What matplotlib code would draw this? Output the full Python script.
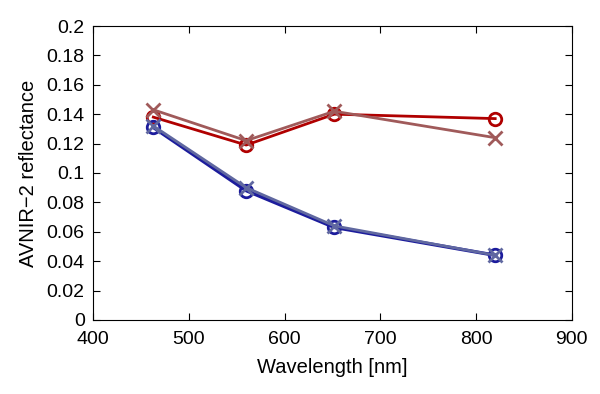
import numpy as np
import matplotlib.pyplot as plt

plt.rcParams['font.family'] = ['Liberation Sans', 'DejaVu Sans']

wavelength = [463, 560, 652, 820]
red_circ = [0.138, 0.119, 0.140, 0.137]
red_cross = [0.143, 0.122, 0.142, 0.124]
blue_circ = [0.131, 0.088, 0.063, 0.044]
blue_cross = [0.132, 0.090, 0.064, 0.044]

fig = plt.figure(figsize=(6, 3.94), dpi=100)
ax = fig.add_axes([0.155, 0.188, 0.798, 0.746])

ax.plot(wavelength, red_circ, '-o', color='#b00000', lw=2, ms=9, mfc='none', mew=2)
ax.plot(wavelength, red_cross, '-x', color='#a05a5a', lw=2, ms=10, mew=2)
ax.plot(wavelength, blue_circ, '-o', color='#1c1c9c', lw=2.5, ms=9, mfc='none', mew=2)
ax.plot(wavelength, blue_cross, '-x', color='#6068a0', lw=2, ms=10, mew=2)

ax.set_xlim(400, 900)
ax.set_ylim(0, 0.2)
ax.set_xticks(np.arange(400, 901, 100))
ax.set_yticks(np.arange(0, 0.201, 0.02))
ax.set_yticklabels(['0', '0.02', '0.04', '0.06', '0.08', '0.1', '0.12', '0.14', '0.16', '0.18', '0.2'])
ax.tick_params(direction='in', top=True, right=True, labelsize=14, length=5)
ax.tick_params(axis='x', pad=8)
ax.tick_params(axis='y', pad=6)
ax.set_xlabel('Wavelength [nm]', fontsize=14.5, labelpad=7)
ax.set_ylabel('AVNIR\u22122 reflectance', fontsize=14.5, labelpad=6)

fig.savefig('out.png', dpi=100)
